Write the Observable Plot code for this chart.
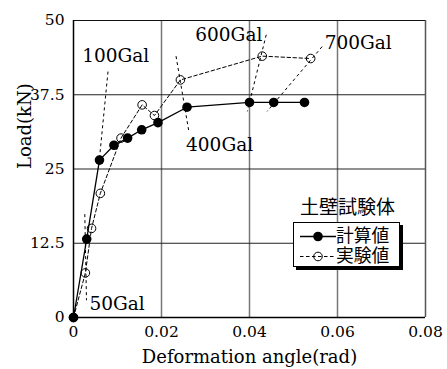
<!DOCTYPE html>
<html><head><meta charset="utf-8">
<script src="https://cdn.jsdelivr.net/npm/d3@7"></script>
<script src="https://cdn.jsdelivr.net/npm/@observablehq/plot@0.6"></script>
<style>
body{margin:0;background:#fff;}
#wrap{position:relative;width:447px;height:369px;}
#legTitle{position:absolute;left:300px;top:196px;font:19px/24px "Liberation Sans","Noto Sans CJK JP";color:#000;}
#legBox{position:absolute;left:293px;top:222px;width:105px;height:43px;border:1px solid #000;background:#fff;box-shadow:3px 3px 0 #000;font:17.8px "Liberation Sans","Noto Sans CJK JP";}
.row{position:absolute;left:0;height:19px;display:flex;align-items:center;}
.row svg{display:block}
.row span{display:inline-block;height:19px;line-height:19px;}
</style>
</head><body>
<div id="wrap"></div>
<script>
// Calculated values (計算値)
const calcAngle = [0, 0.0030, 0.0059, 0.0092, 0.0123, 0.0155, 0.0192, 0.0258, 0.0400, 0.0455, 0.0525];
const calcLoad  = [0, 13.2, 26.5, 29.0, 30.2, 31.6, 32.8, 35.4, 36.2, 36.2, 36.2];
// Experimental values (実験値)
const expAngle = [0, 0.0027, 0.0041, 0.0061, 0.0108, 0.0156, 0.0184, 0.0243, 0.0429, 0.0539];
const expLoad  = [0, 7.5, 15.0, 20.9, 30.2, 35.8, 34.0, 40.0, 44.0, 43.6];
// Annotations
const galLabels = ["50Gal", "100Gal", "400Gal", "600Gal", "700Gal"];
const galLabelX = [0.0099, 0.0096, 0.0332, 0.0353, 0.0647];
const galLabelY = [2.3, 44.0, 29.1, 47.5, 46.2];
const leadX1 = [0.00257, 0.00784, 0.0233, 0.0438, 0.0565];
const leadY1 = [17.4, 41.4, 44.0, 47.6, 45.6];
const leadX2 = [0.00295, 0.0058, 0.0262, 0.0395, 0.0440];
const leadY2 = [2.9, 26.0, 31.4, 34.7, 34.7];
// Axes
const xTicks = [0, 0.02, 0.04, 0.06, 0.08];
const yTicks = [0, 12.5, 25, 37.5, 50];
const xLabel = "Deformation angle(rad)";
const yLabel = "Load(kN)";
const legendTitle = "土壁試験体";
const seriesNames = ["計算値", "実験値"];

const calc = calcAngle.map((x, i) => ({x, y: calcLoad[i]}));
const exp = expAngle.map((x, i) => ({x, y: expLoad[i]}));
const ann = galLabels.map((t, i) => ({t, x: galLabelX[i], y: galLabelY[i], x1: leadX1[i], y1: leadY1[i], x2: leadX2[i], y2: leadY2[i]}));

const chart = Plot.plot({
  width: 447, height: 369,
  marginLeft: 73, marginRight: 22, marginTop: 20, marginBottom: 52,
  style: {fontFamily: "DejaVu Serif", fontSize: "15px", background: "#fff", color: "#000"},
  x: {domain: [0, 0.08]},
  y: {domain: [0, 50]},
  marks: [
    Plot.ruleX(xTicks.slice(1, 4), {stroke: "#777", strokeWidth: 1.5}),
    Plot.ruleY(yTicks.slice(1, 4), {stroke: "#222", strokeWidth: 1}),
    Plot.ruleX([0.08], {stroke: "#555", strokeWidth: 1.5}),
    Plot.ruleY([50], {stroke: "#111", strokeWidth: 1.2}),
    Plot.ruleX([0], {stroke: "#000", strokeWidth: 1.5}),
    Plot.ruleY([0], {stroke: "#000", strokeWidth: 1.5}),
    Plot.axisX({ticks: xTicks, tickSize: 0, tickPadding: 8, label: null, fontSize: 15.5, tickFormat: d => String(d)}),
    Plot.axisY({ticks: yTicks, tickSize: 0, tickPadding: 9, label: null, fontSize: 15.5, tickFormat: d => String(d)}),
    Plot.text([xLabel], {frameAnchor: "bottom", dy: 45, fontSize: 18}),
    Plot.text([yLabel], {frameAnchor: "left", dx: -48, rotate: -90, fontSize: 18}),
    Plot.link(ann, {x1: "x1", y1: "y1", x2: "x2", y2: "y2", stroke: "#000", strokeWidth: 1, strokeDasharray: "3,3"}),
    Plot.text(ann, {x: "x", y: "y", text: "t", fontSize: 18.5}),
    Plot.line(exp, {x: "x", y: "y", stroke: "#000", strokeWidth: 1, strokeDasharray: "3.5,2.5"}),
    Plot.line(calc, {x: "x", y: "y", stroke: "#000", strokeWidth: 1.3}),
    Plot.dot(exp, {x: "x", y: "y", r: 4.3, stroke: "#000", strokeWidth: 1, fill: "none"}),
    Plot.dot(calc, {x: "x", y: "y", r: 4.8, fill: "#000", stroke: "none"})
  ]
});
const wrap = document.getElementById("wrap");
wrap.appendChild(chart);

const t = document.createElement("div");
t.id = "legTitle"; t.textContent = legendTitle; wrap.appendChild(t);
const box = document.createElement("div");
box.id = "legBox"; wrap.appendChild(box);
const sym = [
  `<svg width="42" height="19"><line x1="6" y1="9.5" x2="42" y2="9.5" stroke="#000" stroke-width="1.3"/><circle cx="24" cy="9.5" r="4.8" fill="#000"/></svg>`,
  `<svg width="42" height="19"><line x1="6" y1="9.5" x2="42" y2="9.5" stroke="#000" stroke-width="1" stroke-dasharray="3.5,2.5"/><circle cx="24" cy="9.5" r="4.3" fill="none" stroke="#000"/></svg>`
];
seriesNames.forEach((n, i) => {
  const r = document.createElement("div");
  r.className = "row";
  r.style.top = (4 + i * 20) + "px";
  r.innerHTML = sym[i] + `<span>${n}</span>`;
  box.appendChild(r);
});
</script>
</body></html>
